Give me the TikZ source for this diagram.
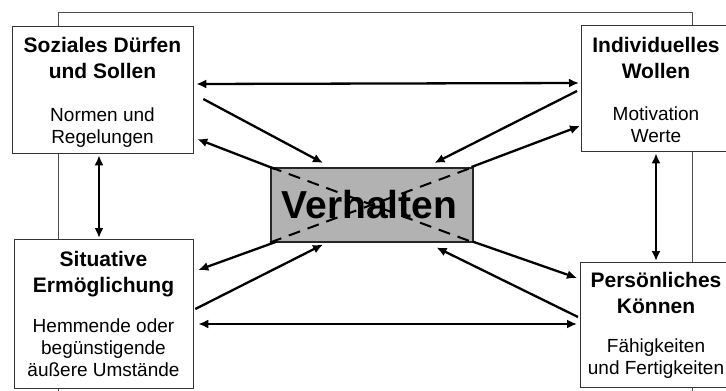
\documentclass[tikz,border=0pt]{standalone}
\usepackage{fontspec}
\setmainfont{Liberation Sans}
\usetikzlibrary{arrows.meta,calc}
\begin{document}
\begin{tikzpicture}[x=1pt,y=-1pt,
  box/.style={draw=black!80,line width=1.3pt,fill=white,inner sep=0pt,anchor=north west},
  frame/.style={draw=black!70,line width=1pt},
  ttl/.style={font=\fontsize{21}{26}\selectfont\bfseries,align=center,anchor=base,inner sep=0pt},
  sub/.style={font=\fontsize{19}{22}\selectfont,align=center,anchor=base,inner sep=0pt},
  arr/.style={line width=2.3pt,-{Latex[length=10pt,width=9pt]}},
  darr/.style={line width=2.3pt,{Latex[length=10pt,width=9pt]}-{Latex[length=10pt,width=9pt]}},
]
\clip (0,0) rectangle (726,391);
\draw[frame] (58,12) rectangle (692,410);

\node[box,minimum width=181pt,minimum height=127pt] (tl) at (12,26) {};
\node[box,minimum width=150pt,minimum height=126pt] (tr) at (581,25) {};
\node[box,minimum width=179pt,minimum height=149pt] (bl) at (14,239) {};
\node[box,minimum width=152pt,minimum height=125pt] (br) at (580,262) {};
\node[draw=black!85,line width=1.5pt,fill=black!30,inner sep=0pt,anchor=north west,
      minimum width=202pt,minimum height=74pt] (vh) at (270,167) {};
\draw[line width=2pt,dash pattern=on 12pt off 8pt] (vh.north west) -- (vh.south east);
\draw[line width=2pt,dash pattern=on 12pt off 8pt] (vh.south west) -- (vh.north east);
\node[font=\fontsize{39}{42}\selectfont\bfseries,anchor=base,inner sep=0pt] (vht) at (369.5,218) {Verhalten};

% multi-line nodes: base anchor = baseline of the last line
\node[ttl] (tlt) at (102.5,78) {Soziales Dürfen\\und Sollen};
\node[sub] (tls) at (102.5,143) {Normen und\\Regelungen};
\node[ttl] (trt) at (656,78) {Individuelles\\Wollen};
\node[sub] (trs) at (656,142) {Motivation\\Werte};
\node[ttl] (blt) at (103.5,292) {Situative\\Ermöglichung};
\node[sub] (bls) at (103.5,376) {Hemmende oder\\begünstigende\\äußere Umstände};
\node[ttl] (brt) at (656,313) {Persönliches\\Können};
\node[sub] (brs) at (656,374) {Fähigkeiten\\und Fertigkeiten};

\draw[darr] ($(tl.north east)+(2,58)$) -- ($(tr.north west)+(-2,58)$);
\draw[arr] ($(tl.north east)+(9,73)$) -- ($(vh.north west)+(53,-4)$);
\draw[arr] ($(vh.north west)+(5,2)$) -- ($(tl.north east)+(3,113)$);
\draw[arr] ($(tr.north west)+(-4,66)$) -- ($(vh.north east)+(-39,-4)$);
\draw[arr] ($(vh.north east)+(-2,0)$) -- ($(tr.north west)+(-1,101)$);
\draw[arr] ($(vh.south west)+(7,-1)$) -- ($(bl.north east)+(4,31)$);
\draw[arr] ($(bl.north east)+(1,70)$) -- ($(vh.south west)+(53,2)$);
\draw[arr] ($(br.north west)+(-2,55)$) -- ($(vh.south east)+(-37,5)$);
\draw[arr] ($(vh.south east)+(-1,-1)$) -- ($(br.north west)+(-3,16)$);
\draw[darr] ($(bl.north east)+(4,85)$) -- ($(br.north west)+(-3,62)$);
\draw[darr] ($(tl.south west)+(87,1)$) -- ($(bl.north west)+(85,-1)$);
\draw[darr] ($(tr.south west)+(75,1)$) -- ($(br.north west)+(76,-1)$);
\end{tikzpicture}
\end{document}
